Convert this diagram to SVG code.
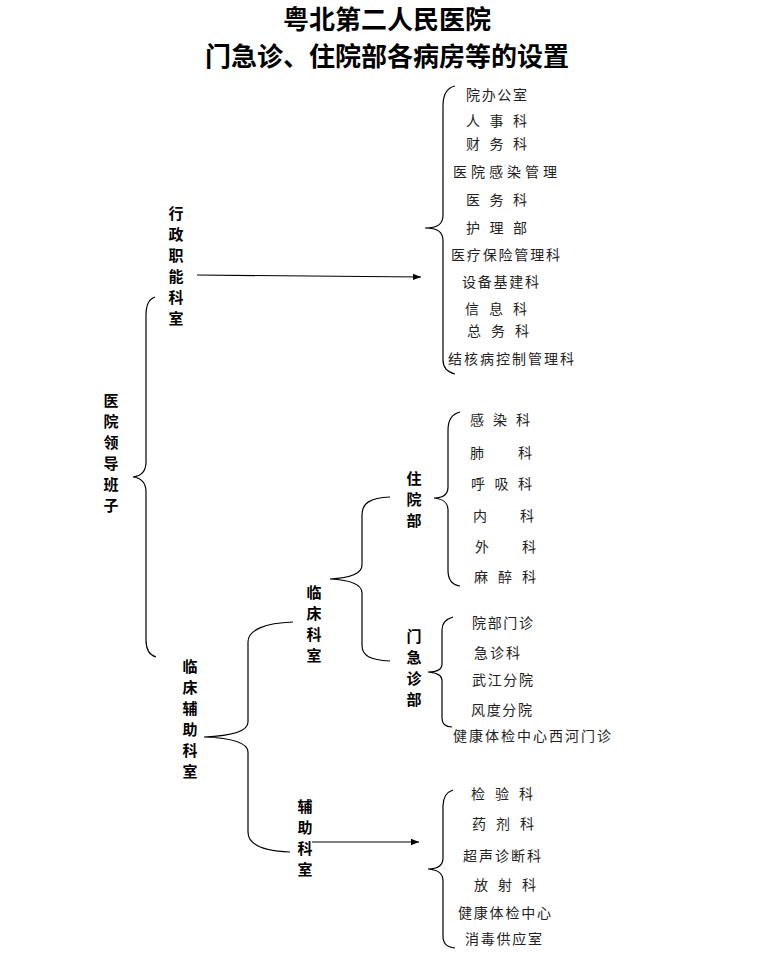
<svg xmlns="http://www.w3.org/2000/svg" width="774" height="954" viewBox="0 0 774 954">
<defs>
<marker id="ah" viewBox="0 0 10 10" refX="10" refY="5" markerWidth="8" markerHeight="8" markerUnits="userSpaceOnUse" orient="auto"><path d="M0,1 L10,5 L0,9 z" fill="#000"/></marker>
</defs>
<style>
.t{font-family:"Noto Sans CJK SC","Noto Sans",sans-serif;font-size:14px;fill:#222}
.b{font-family:"Noto Sans CJK SC","Noto Sans",sans-serif;font-size:15px;font-weight:bold;fill:#000;text-anchor:middle}
.h{font-family:"Noto Sans CJK SC","Noto Sans",sans-serif;font-size:26px;font-weight:bold;fill:#000;text-anchor:middle}
.br{fill:none;stroke:#000;stroke-width:1.2}
.ar{fill:none;stroke:#000;stroke-width:1.2;marker-end:url(#ah)}
</style>
<rect width="774" height="954" fill="#fff"/>
<g id="title">
<text class="h" x="387" y="29">粤北第二人民医院</text>
<text class="h" x="387" y="66">门急诊、住院部各病房等的设置</text>
</g>
<g id="connectors">
<path class="br" d="M455,86 C446,88 443,95 443,106 L443,215 C443,224 438,228 425,228 C438,228 443,232 443,241 L443,360 C443,368 447,372 455,374"/>
<path class="br" d="M155,297 C149,299 146,305 146,315 L146,462 C146,472 141,476 133,477 C141,478 146,482 146,492 L146,640 C146,650 149,655 156,657"/>
<path class="br" d="M390,497 C370,498 362,503 362,515 L362,565 C362,574 350,578 330,579 C350,580 362,584 362,593 L362,645 C362,656 370,660 390,661"/>
<path class="br" d="M293,622 C265,623 248,630 248,642 L248,722 C248,732 230,736 204,737 C230,738 248,742 248,752 L248,832 C248,845 265,851 290,852"/>
<path class="br" d="M460,412 C452,414 448,420 448,430 L448,487 C448,495 443,498 434,498 C443,499 448,502 448,510 L448,570 C448,580 452,585 460,586"/>
<path class="br" d="M453,617 C446,619 442,623 442,630 L442,664 C442,670 437,672 428,672 C437,673 442,675 442,681 L442,718 C442,724 446,727 452,727"/>
<path class="br" d="M453,790 C447,792 443,797 443,806 L443,858 C443,866 438,869 428,869 C438,870 443,873 443,881 L443,936 C443,944 447,947 455,948"/>
<line class="ar" x1="197" y1="275" x2="421" y2="277"/>
<line class="ar" x1="312" y1="842" x2="419" y2="842"/>
</g>
<g id="n-leader"><text class="b" x="111" y="406">医</text><text class="b" x="111" y="427">院</text><text class="b" x="111" y="448">领</text><text class="b" x="111" y="469">导</text><text class="b" x="111" y="490">班</text><text class="b" x="111" y="511">子</text></g>
<g id="n-admin"><text class="b" x="176" y="219">行</text><text class="b" x="176" y="240">政</text><text class="b" x="176" y="261">职</text><text class="b" x="176" y="282">能</text><text class="b" x="176" y="303">科</text><text class="b" x="176" y="324">室</text></g>
<g id="n-clinaux"><text class="b" x="190" y="672">临</text><text class="b" x="190" y="693">床</text><text class="b" x="190" y="714">辅</text><text class="b" x="190" y="735">助</text><text class="b" x="190" y="756">科</text><text class="b" x="190" y="777">室</text></g>
<g id="n-clinical"><text class="b" x="314" y="598">临</text><text class="b" x="314" y="619">床</text><text class="b" x="314" y="640">科</text><text class="b" x="314" y="661">室</text></g>
<g id="n-aux"><text class="b" x="305" y="812">辅</text><text class="b" x="305" y="833">助</text><text class="b" x="305" y="854">科</text><text class="b" x="305" y="875">室</text></g>
<g id="n-inpatient"><text class="b" x="414" y="484">住</text><text class="b" x="414" y="505">院</text><text class="b" x="414" y="526">部</text></g>
<g id="n-emergency"><text class="b" x="414" y="642">门</text><text class="b" x="414" y="663">急</text><text class="b" x="414" y="684">诊</text><text class="b" x="414" y="705">部</text></g>
<g id="admin-list">
<text class="t" x="466" y="100" textLength="61" lengthAdjust="spacing">院办公室</text>
<text class="t" x="466" y="126" textLength="61" lengthAdjust="spacing">人事科</text>
<text class="t" x="466" y="149" textLength="61" lengthAdjust="spacing">财务科</text>
<text class="t" x="453" y="177" textLength="104" lengthAdjust="spacing">医院感染管理</text>
<text class="t" x="466" y="205" textLength="61" lengthAdjust="spacing">医务科</text>
<text class="t" x="466" y="233" textLength="61" lengthAdjust="spacing">护理部</text>
<text class="t" x="451" y="260" textLength="109" lengthAdjust="spacing">医疗保险管理科</text>
<text class="t" x="462" y="287" textLength="77" lengthAdjust="spacing">设备基建科</text>
<text class="t" x="465" y="314" textLength="62" lengthAdjust="spacing">信息科</text>
<text class="t" x="467" y="336" textLength="62" lengthAdjust="spacing">总务科</text>
<text class="t" x="448" y="364" textLength="126" lengthAdjust="spacing">结核病控制管理科</text>
</g>
<g id="inpatient-list">
<text class="t" x="470" y="425" textLength="60" lengthAdjust="spacing">感染科</text>
<text class="t" x="470" y="458" textLength="62" lengthAdjust="spacing">肺科</text>
<text class="t" x="471" y="489" textLength="61" lengthAdjust="spacing">呼吸科</text>
<text class="t" x="473" y="521" textLength="61" lengthAdjust="spacing">内科</text>
<text class="t" x="475" y="552" textLength="61" lengthAdjust="spacing">外科</text>
<text class="t" x="474" y="582" textLength="62" lengthAdjust="spacing">麻醉科</text>
</g>
<g id="emergency-list">
<text class="t" x="472" y="628" textLength="61" lengthAdjust="spacing">院部门诊</text>
<text class="t" x="474" y="658" textLength="46" lengthAdjust="spacing">急诊科</text>
<text class="t" x="472" y="685" textLength="61" lengthAdjust="spacing">武江分院</text>
<text class="t" x="471" y="715" textLength="61" lengthAdjust="spacing">风度分院</text>
<text class="t" x="453" y="741" textLength="158" lengthAdjust="spacing">健康体检中心西河门诊</text>
</g>
<g id="aux-list">
<text class="t" x="471" y="799" textLength="62" lengthAdjust="spacing">检验科</text>
<text class="t" x="472" y="829" textLength="62" lengthAdjust="spacing">药剂科</text>
<text class="t" x="463" y="861" textLength="78" lengthAdjust="spacing">超声诊断科</text>
<text class="t" x="474" y="890" textLength="62" lengthAdjust="spacing">放射科</text>
<text class="t" x="458" y="918" textLength="93" lengthAdjust="spacing">健康体检中心</text>
<text class="t" x="465" y="944" textLength="77" lengthAdjust="spacing">消毒供应室</text>
</g>
</svg>
